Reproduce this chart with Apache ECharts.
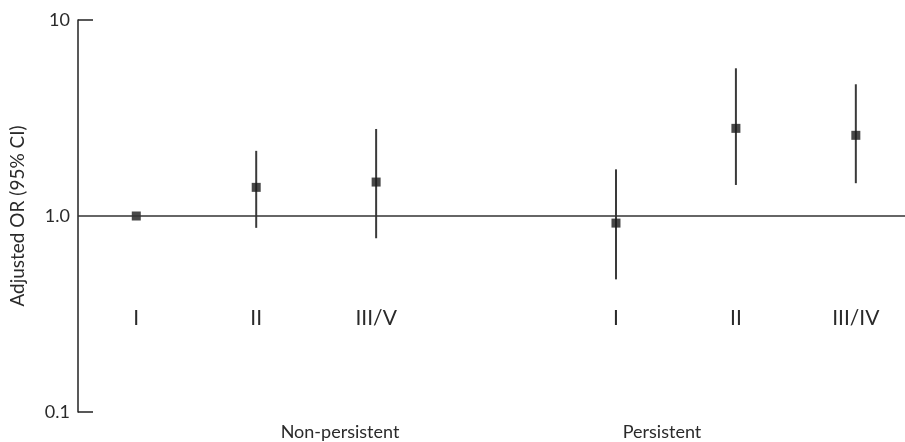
<!DOCTYPE html>
<html>
<head>
<meta charset="utf-8">
<script src="https://cdn.jsdelivr.net/npm/echarts@6/dist/echarts.min.js"></script>
<style>
html,body{margin:0;padding:0;background:#fff;}
#chart{width:905px;height:442px;}
</style>
</head>
<body>
<div id="chart"></div>
<script>
// Data
var categories = ['I', 'II', 'III/V', 'I', 'II', 'III/IV'];
var positions = [1, 2, 3, 5, 6, 7];
var groups = ['Non-persistent', 'Persistent'];
var oddsRatio = [1.0, 1.40, 1.49, 0.92, 2.80, 2.58];
var ciLower = [null, 0.87, 0.77, 0.475, 1.44, 1.47];
var ciUpper = [null, 2.15, 2.78, 1.73, 5.67, 4.70];
var yTicks = [0.1, 1, 10];
var yTickLabels = ['0.1', '1.0', '10'];

var FONT = 'Lato';
var TXT = '#2a2a2a';

var chart = echarts.init(document.getElementById('chart'));

var pointData = positions.map(function (p, i) { return [p, oddsRatio[i]]; });
var ciData = [];
positions.forEach(function (p, i) {
  if (ciLower[i] != null) ciData.push([p, ciLower[i], ciUpper[i]]);
});

var option = {
  backgroundColor: '#fff',
  animation: false,
  grid: { left: 74, right: 0, top: 20, bottom: 30, containLabel: false },
  xAxis: {
    type: 'value',
    min: 0.514,
    max: 7.41,
    axisLine: { show: false },
    axisTick: { show: false },
    splitLine: { show: false },
    axisLabel: {
      customValues: positions,
      formatter: function (v) {
        var i = positions.indexOf(Math.round(v));
        return i >= 0 ? categories[i] : '';
      },
      margin: -93.5,
      verticalAlign: 'middle',
      fontFamily: FONT,
      fontSize: 21,
      color: TXT
    }
  },
  yAxis: {
    type: 'log',
    logBase: 10,
    min: 0.1,
    max: 10,
    name: 'Adjusted OR (95% CI)',
    nameLocation: 'middle',
    nameGap: 51,
    nameTextStyle: { fontFamily: FONT, fontSize: 19, color: TXT },
    axisLine: { show: true, lineStyle: { color: '#222', width: 1.5 } },
    axisTick: {
      show: true,
      inside: true,
      length: 15,
      customValues: [0.1, 10],
      lineStyle: { color: '#222', width: 1.5 }
    },
    splitLine: { show: false },
    axisLabel: {
      customValues: yTicks,
      margin: 8,
      fontFamily: FONT,
      fontSize: 18,
      color: TXT,
      formatter: function (v) {
        for (var i = 0; i < yTicks.length; i++) {
          if (Math.abs(v - yTicks[i]) < 1e-6 * yTicks[i]) return yTickLabels[i];
        }
        return '';
      }
    }
  },
  series: [
    {
      type: 'custom',
      data: ciData,
      renderItem: function (params, api) {
        var x = api.value(0);
        var lo = api.coord([x, api.value(1)]);
        var hi = api.coord([x, api.value(2)]);
        return {
          type: 'line',
          shape: { x1: lo[0], y1: lo[1], x2: hi[0], y2: hi[1] },
          style: { stroke: '#3a3a3a', lineWidth: 2 }
        };
      },
      z: 2
    },
    {
      type: 'scatter',
      data: pointData,
      symbol: 'rect',
      symbolSize: 9,
      itemStyle: { color: '#1a1a1a' },
      z: 4,
      markLine: {
        silent: true,
        symbol: 'none',
        label: { show: false },
        lineStyle: { color: '#333', width: 1.5, type: 'solid' },
        data: [{ yAxis: 1 }]
      }
    }
  ],
  graphic: [
    {
      type: 'text', x: 340, y: 432,
      style: { text: groups[0], fontFamily: FONT, fontSize: 18, fill: TXT, textAlign: 'center', textVerticalAlign: 'middle' }
    },
    {
      type: 'text', x: 662, y: 432,
      style: { text: groups[1], fontFamily: FONT, fontSize: 18, fill: TXT, textAlign: 'center', textVerticalAlign: 'middle' }
    }
  ]
};

chart.setOption(option);
</script>
</body>
</html>
